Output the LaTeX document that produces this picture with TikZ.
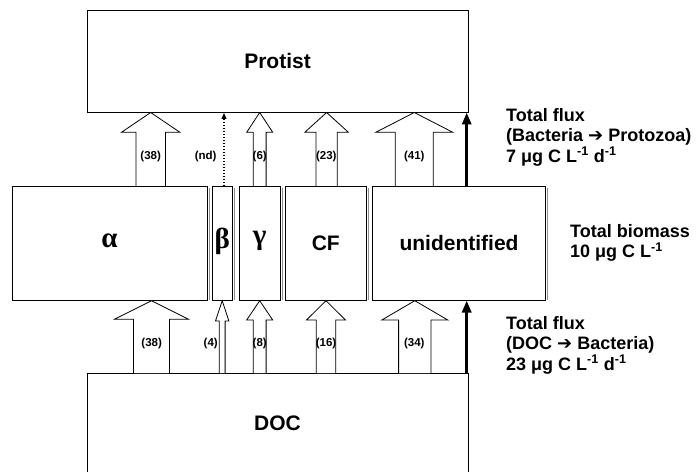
\documentclass[tikz,border=0pt]{standalone}
\usepackage{fontspec}
\usetikzlibrary{arrows.meta}
\setmainfont{Liberation Sans}
\newfontfamily\greekfont{Liberation Serif}
\newfontfamily\arrfont{DejaVu Sans}
\begin{document}
\begin{tikzpicture}[x=1bp,y=-1bp,
  box/.style={draw=black,line width=0.8bp,fill=white,inner sep=0pt,font=\bfseries\fontsize{21bp}{24bp}\selectfont},
  midbox/.style={box,minimum height=114bp},
  greek/.style={font=\greekfont\bfseries\fontsize{29bp}{30bp}\selectfont},
  barrow/.style={draw=black,line width=0.8bp,fill=white,line join=miter},
  flux/.style={font=\bfseries\fontsize{11.5bp}{12bp}\selectfont,inner sep=0pt},
  side/.style={font=\bfseries\fontsize{18bp}{20.5bp}\selectfont,align=left,anchor=west,inner sep=0pt},
  thick arrow/.style={line width=3bp,-{Triangle[width=9bp,length=12bp]}},
  shadowline/.style={draw=black!45,line width=0.8bp}
]
\useasboundingbox (0,0) rectangle (697,472);
\newcommand\bkarrow[6]{\draw[barrow] ({#1-#2},#4) -- ({#1-#2},#5) -- ({#1-#3},#5) -- (#1,#6) -- ({#1+#3},#5) -- ({#1+#2},#5) -- ({#1+#2},#4);}
% main boxes
\node[box,minimum width=381bp,minimum height=102bp] (protist) at (277.5,61) {Protist};
\node[box,minimum width=381bp,minimum height=117bp,text depth=0pt] (doc) at (277.5,431.5) {};
\node[font=\bfseries\fontsize{21bp}{24bp}\selectfont] (doctext) at (277.5,423) {DOC};
% shadows
\foreach \xr in {207,232.7,280,366.7,545.7}{\draw[shadowline] (\xr+2,188) -- (\xr+2,300);}
\node[midbox,minimum width=195bp] (alpha) at (109.5,243) {};
\node[greek] at (109.5,241) {α};
\node[midbox,minimum width=20.5bp] (beta) at (222.3,243) {};
\node[greek] at (222.3,241) {β};
\node[midbox,minimum width=40.7bp] (gamma) at (259.7,243) {};
\node[greek] at (259.7,241) {γ};
\node[midbox,minimum width=81.7bp] (cf) at (325.8,243) {CF};
\node[midbox,minimum width=173.4bp] (unid) at (459,243) {unidentified};
% bottom block arrows (DOC -> bacteria)
\bkarrow{151.5}{18}{37}{373}{319.3}{300.7}
\bkarrow{222.2}{2.9}{6.7}{373}{321}{300.7}
\bkarrow{259.7}{6.4}{13}{373}{320}{300.7}
\bkarrow{326}{9.7}{19.5}{373}{320}{300.7}
\bkarrow{414.8}{16.2}{33}{373}{320}{300.7}
% top block arrows (bacteria -> protist)
\bkarrow{150.7}{14.7}{29.2}{186}{132.3}{112.5}
\bkarrow{259.7}{6.4}{13}{186}{132.3}{112.5}
\bkarrow{326.6}{10.7}{21.8}{186}{132.3}{112.5}
\bkarrow{414.3}{19}{38.5}{186}{132.3}{112.5}
% dotted arrow
\coordinate (nds) at (224,186);
\coordinate (nde) at (224,113);
\draw[line width=1.3bp,dash pattern=on 1.3bp off 1.7bp,-{Triangle[width=5bp,length=6bp]}] (nds) -- (nde);
% thick arrows
\coordinate (b1s) at (466.7,373);
\coordinate (b1e) at (466.7,300.5);
\coordinate (b2s) at (466.7,186);
\coordinate (b2e) at (466.7,112.5);
\draw[thick arrow] (b1s) -- (b1e);
\draw[thick arrow] (b2s) -- (b2e);
% flux labels
\node[flux] at (151.7,344) {(38)};
\node[flux] at (210.7,344) {(4)};
\node[flux] at (259.7,344) {(8)};
\node[flux] at (326,344) {(16)};
\node[flux] at (414.3,344) {(34)};
\node[flux] at (150.7,156.5) {(38)};
\node[flux] at (205.7,156.5) {(nd)};
\node[flux] at (259.7,156.5) {(6)};
\node[flux] at (326.3,156.5) {(23)};
\node[flux] at (414.3,156.5) {(41)};
% side texts
\node[side] (tf1) at (506,137) {Total flux\\(Bacteria {\arrfont\bfseries ➔} Protozoa)\\7 μg C L\textsuperscript{-1} d\textsuperscript{-1}};
\node[side] (tb) at (570,243) {Total biomass\\10 μg C L\textsuperscript{-1}};
\node[side] (tf2) at (506,345) {Total flux\\(DOC {\arrfont\bfseries ➔} Bacteria)\\23 μg C L\textsuperscript{-1} d\textsuperscript{-1}};
\end{tikzpicture}
\end{document}
